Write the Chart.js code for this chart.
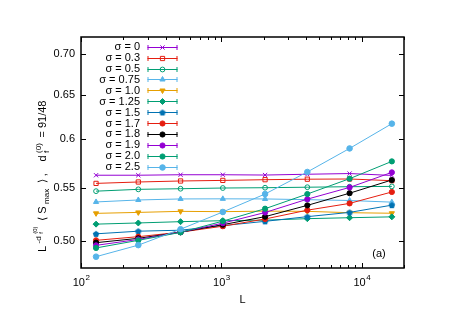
<!DOCTYPE html>
<html><head><meta charset="utf-8">
<script src="https://cdn.jsdelivr.net/npm/chart.js@4"></script>
<style>html,body{margin:0;padding:0;background:#fff}#c{display:block}</style>
</head><body>
<canvas id="c" width="463" height="327" style="width:463px;height:327px"></canvas>
<script>
// ---- data ----
const sizesL = [128, 256, 512, 1024, 2048, 4096, 8192, 16384];
const sigmaLabels = ['σ = 0','σ = 0.3','σ = 0.5','σ = 0.75','σ = 1.0','σ = 1.25','σ = 1.5','σ = 1.7','σ = 1.8','σ = 1.9','σ = 2.0','σ = 2.5'];
const sig00  = [0.5625, 0.5625, 0.5630, 0.5630, 0.5627, 0.5635, 0.5642, 0.5623];
const sig03  = [0.5543, 0.5557, 0.5567, 0.5573, 0.5580, 0.5585, 0.5587, 0.5570];
const sig05  = [0.5466, 0.5484, 0.5490, 0.5497, 0.5500, 0.5505, 0.5510, 0.5513];
const sig075 = [0.5361, 0.5380, 0.5390, 0.5391, 0.5390, 0.5383, 0.5375, 0.5359];
const sig10  = [0.5252, 0.5261, 0.5271, 0.5268, 0.5273, 0.5271, 0.5258, 0.5253];
const sig125 = [0.5151, 0.5162, 0.5174, 0.5183, 0.5188, 0.5202, 0.5211, 0.5219];
const sig15  = [0.5062, 0.5086, 0.5095, 0.5137, 0.5177, 0.5221, 0.5261, 0.5330];
const sig17  = [0.5003, 0.5036, 0.5077, 0.5132, 0.5199, 0.5282, 0.5347, 0.5458];
const sig18  = [0.4982, 0.5021, 0.5077, 0.5146, 0.5221, 0.5328, 0.5446, 0.5577];
const sig19  = [0.4958, 0.5011, 0.5077, 0.5160, 0.5260, 0.5388, 0.5503, 0.5654];
const sig20  = [0.4935, 0.5003, 0.5075, 0.5179, 0.5296, 0.5438, 0.5590, 0.5767];
const sig25  = [0.4858, 0.4960, 0.5104, 0.5265, 0.5438, 0.5658, 0.5903, 0.6172];
const yTickValues = [0.50, 0.55, 0.60, 0.65, 0.70];
const yTickLabels = ['0.50', '0.55', '0.6', '0.65', '0.70'];
const xTickValues = [100, 1000, 10000];
const xTickBase = '10';
const xTickExponents = ['2', '3', '4'];
const xMinorTicks = [200,300,400,500,600,700,800,900,2000,3000,4000,5000,6000,7000,8000,9000,20000];
const xTitle = 'L';
const panelTag = '(a)';

// ---- styles ----
const FONT = '"Liberation Sans", Arial, Helvetica, sans-serif';
const F = s => s + 'px ' + FONT;
const seriesValues = [sig00, sig03, sig05, sig075, sig10, sig125, sig15, sig17, sig18, sig19, sig20, sig25];
const colors = ['#9400d3','#e51e10','#009e73','#56b4e9','#e69f00','#009e73','#0072b2','#e51e10','#000000','#9400d3','#009e73','#56b4e9'];
const pent = (() => {
  const c = document.createElement('canvas'); c.width = 8; c.height = 8;
  const g = c.getContext('2d'); g.fillStyle = '#0072b2'; g.beginPath();
  for (let k = 0; k < 5; k++) {
    const a = -Math.PI / 2 + k * 2 * Math.PI / 5;
    const px = 4 + 3.4 * Math.cos(a), py = 4.3 + 3.4 * Math.sin(a);
    k ? g.lineTo(px, py) : g.moveTo(px, py);
  }
  g.closePath(); g.fill(); return c;
})();
const markers = [
  {ps:'crossRot', r:3, fill:false, rot:0},
  {ps:'rect', r:3, fill:false, rot:0},
  {ps:'circle', r:2.4, fill:false, rot:0},
  {ps:'triangle', r:3, fill:true, rot:0},
  {ps:'triangle', r:3, fill:true, rot:180},
  {ps:'rectRot', r:3, fill:true, rot:0},
  {ps:pent, r:3, fill:true, rot:0},
  {ps:'circle', r:2.6, fill:true, rot:0},
  {ps:'circle', r:2.6, fill:true, rot:0},
  {ps:'circle', r:2.6, fill:true, rot:0},
  {ps:'circle', r:2.6, fill:true, rot:0},
  {ps:'circle', r:2.8, fill:true, rot:0}
];

const datasets = seriesValues.map((vals, i) => ({
  label: sigmaLabels[i],
  data: sizesL.map((L, j) => ({x: L, y: vals[j]})),
  borderColor: colors[i],
  backgroundColor: colors[i],
  borderWidth: 1,
  pointStyle: markers[i].ps,
  pointRadius: markers[i].r,
  pointRotation: markers[i].rot,
  pointBorderWidth: 1,
  pointBorderColor: colors[i],
  pointBackgroundColor: markers[i].fill ? colors[i] : 'rgba(0,0,0,0)',
  tension: 0,
  order: 20 - i,
  clip: false
}));

function drawRich(ctx, segs, gapExtra) {
  let x = 0;
  segs.forEach(s => {
    if (s.stack) {
      let w = 0;
      s.stack.forEach(t => { ctx.font = F(t.s); ctx.fillText(t.t, x, t.dy); w = Math.max(w, ctx.measureText(t.t).width); });
      x += w + gapExtra;
    } else {
      ctx.font = F(s.s); ctx.fillText(s.t, x, s.dy); x += ctx.measureText(s.t).width + gapExtra;
    }
  });
}
const yTitleSegs = [
  {t:'L', s:11, dy:0},
  {t:'-d', s:8, dy:-5},
  {stack:[{t:'f', s:6, dy:-2.5}, {t:'(0)', s:6, dy:-9}]},
  {t:' \u27e8 S', s:11, dy:0},
  {t:'max', s:8, dy:3},
  {t:' \u27e9 ,', s:11, dy:0},
  {t:'   d', s:11, dy:0},
  {stack:[{t:'f', s:8, dy:3}, {t:'(0)', s:8, dy:-5}]},
  {t:' = 91/48', s:11, dy:0}
];

const frame = {
  id: 'frame',
  afterDraw(chart) {
    const {ctx, chartArea: a, scales: {x, y}} = chart;
    ctx.save();
    ctx.strokeStyle = '#000'; ctx.lineWidth = 1;
    const seg = (x1, y1, x2, y2) => { ctx.beginPath(); ctx.moveTo(x1, y1); ctx.lineTo(x2, y2); ctx.stroke(); };
    xTickValues.forEach(v => { const px = Math.round(x.getPixelForValue(v)) + 0.5; seg(px, a.bottom, px, a.bottom - 5); seg(px, a.top, px, a.top + 5); });
    xMinorTicks.forEach(v => { const px = Math.round(x.getPixelForValue(v)) + 0.5; seg(px, a.bottom, px, a.bottom - 3); seg(px, a.top, px, a.top + 3); });
    yTickValues.forEach(v => { const py = Math.round(y.getPixelForValue(v)) + 0.5; seg(a.left, py, a.left + 5, py); seg(a.right, py, a.right - 5, py); });
    ctx.lineWidth = 1.5;
    ctx.strokeRect(a.left, a.top, a.right - a.left, a.bottom - a.top);

    ctx.fillStyle = '#000';
    ctx.font = F(11); ctx.textAlign = 'right'; ctx.textBaseline = 'middle';
    yTickValues.forEach((v, i) => ctx.fillText(yTickLabels[i], a.left - 6, y.getPixelForValue(v)));

    ctx.textAlign = 'left'; ctx.textBaseline = 'alphabetic';
    xTickValues.forEach((v, i) => {
      const px = x.getPixelForValue(v);
      ctx.font = F(11); const w1 = ctx.measureText(xTickBase).width;
      ctx.font = F(8); const w2 = ctx.measureText(xTickExponents[i]).width;
      const x0 = px - (w1 + w2) / 2;
      ctx.font = F(11); ctx.fillText(xTickBase, x0, 285.5);
      ctx.font = F(8); ctx.fillText(xTickExponents[i], x0 + w1 + 0.5, 280);
    });

    ctx.font = F(11); ctx.textAlign = 'center'; ctx.textBaseline = 'middle';
    ctx.fillText(xTitle, (a.left + a.right) / 2, 300);
    ctx.fillText(panelTag, 379, 254);

    // y title
    ctx.save();
    ctx.translate(45.5, 252); ctx.rotate(-Math.PI / 2);
    ctx.textAlign = 'left'; ctx.textBaseline = 'alphabetic';
    drawRich(ctx, yTitleSegs, 2.5);
    ctx.restore();

    // legend
    const lx = 140, l1 = 147.5, l2 = 177.5, lm = 162.5;
    sigmaLabels.forEach((lab, i) => {
      const ty = 46.7 + i * 10.9;
      ctx.fillStyle = '#000'; ctx.font = F(11); ctx.textAlign = 'right'; ctx.textBaseline = 'middle';
      ctx.fillText(lab, lx, ty + 0.5);
      ctx.strokeStyle = colors[i]; ctx.lineWidth = 1;
      const yy = Math.round(ty) + 0.5;
      seg(l1, yy, l2, yy); seg(l1 + 0.5, yy - 2.5, l1 + 0.5, yy + 2.5); seg(l2 - 0.5, yy - 2.5, l2 - 0.5, yy + 2.5);
      ctx.fillStyle = markers[i].fill ? colors[i] : 'rgba(0,0,0,0)';
      if (Chart.helpers && Chart.helpers.drawPoint) {
        Chart.helpers.drawPoint(ctx, {pointStyle: markers[i].ps, radius: markers[i].r, rotation: markers[i].rot, borderWidth: 1}, lm, yy);
      } else {
        ctx.beginPath(); ctx.arc(lm, yy, markers[i].r, 0, Math.PI * 2); ctx.fill(); ctx.stroke();
      }
    });
    ctx.restore();
  }
};

new Chart(document.getElementById('c'), {
  type: 'line',
  data: { datasets },
  options: {
    responsive: false, animation: false, devicePixelRatio: 1, events: [],
    layout: { padding: { left: 81, top: 37, right: 59, bottom: 59 } },
    plugins: { legend: { display: false }, tooltip: { enabled: false } },
    scales: {
      x: { type: 'logarithmic', min: 100, max: 20000, display: false },
      y: { type: 'logarithmic', min: 0.476, max: 0.7214, display: false }
    }
  },
  plugins: [frame]
});
</script>
</body></html>
